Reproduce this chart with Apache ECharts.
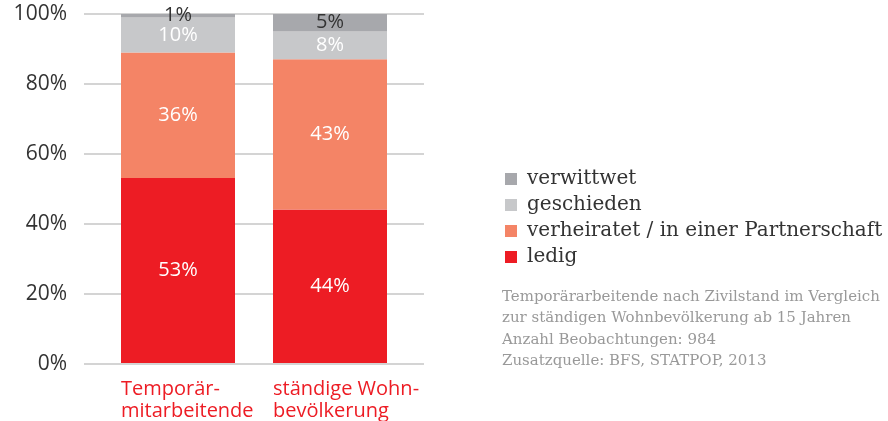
<!DOCTYPE html>
<html>
<head>
<meta charset="utf-8">
<script src="https://cdn.jsdelivr.net/npm/echarts@6/dist/echarts.min.js"></script>
<style>
  html, body { margin: 0; padding: 0; background: #fff; }
  #chart { width: 888px; height: 421px; }
</style>
</head>
<body>
<div id="chart"></div>
<script>
const categories = ['Temporär-\nmitarbeitende', 'ständige Wohn-\nbevölkerung'];
const seriesNames = ['ledig', 'verheiratet / in einer Partnerschaft', 'geschieden', 'verwittwet'];
const ledig = [53, 44];
const verheiratet = [36, 43];
const geschieden = [10, 8];
const verwittwet = [1, 5];
const yTicks = [0, 20, 40, 60, 80, 100];
const noteLines = [
    'Temporärarbeitende nach Zivilstand im Vergleich',
    'zur ständigen Wohnbevölkerung ab 15 Jahren',
    'Anzahl Beobachtungen: 984',
    'Zusatzquelle: BFS, STATPOP, 2013'
];

const colors = ['#ED1C24', '#F48466', '#C7C8CA', '#A7A8AC'];
const sans = '"Open Sans", sans-serif';
const serif = '"DejaVu Serif", serif';

let myChart = echarts.init(document.getElementById('chart'));

const mkSeries = (name, data, i, labelColor) => ({
    name: name,
    type: 'bar',
    stack: 'total',
    xAxisIndex: 1,
    yAxisIndex: 1,
    barWidth: 114,
    data: data,
    itemStyle: { color: colors[i] },
    label: {
        show: true,
        position: 'inside',
        formatter: '{c}%',
        color: labelColor || '#fff',
        fontFamily: sans,
        fontSize: 20
    }
});

let option = {
    animation: false,
    grid: [
        { left: 84, right: 464, top: 14, bottom: 57 },  // gridlines + y labels
        { left: 102, right: 482, top: 14, bottom: 57 }  // bars
    ],
    xAxis: [
        { type: 'category', gridIndex: 0, data: categories, show: false },
        {
            type: 'category',
            gridIndex: 1,
            data: categories,
            axisLine: { show: false },
            axisTick: { show: false },
            axisLabel: {
                margin: 15,
                align: 'center',
                formatter: v => v.split('\n').map(s => '{a|' + s + '}').join('\n'),
                rich: {
                    a: { width: 114, align: 'left', color: '#ED1C24', fontFamily: sans, fontSize: 20, lineHeight: 22 }
                }
            }
        }
    ],
    yAxis: [
        {
            type: 'value',
            gridIndex: 0,
            min: yTicks[0],
            max: yTicks[yTicks.length - 1],
            interval: 20,
            axisLine: { show: false },
            axisTick: { show: false },
            axisLabel: {
                formatter: '{value}%',
                color: '#333',
                fontFamily: sans,
                fontSize: 21,
                margin: 17
            },
            splitLine: { lineStyle: { color: '#D4D4D4', width: 2 } }
        },
        { type: 'value', gridIndex: 1, min: 0, max: 100, show: false }
    ],
    legend: {
        orient: 'vertical',
        left: 500,
        top: 164,
        icon: 'rect',
        itemWidth: 12,
        itemHeight: 12,
        itemGap: 6,
        data: seriesNames.slice().reverse(),
        textStyle: { fontFamily: serif, fontSize: 20, color: '#333', padding: [0, 0, 0, 5] }
    },
    graphic: [{
        type: 'text',
        left: 502,
        top: 286,
        style: {
            text: noteLines.join('\n'),
            fill: '#999',
            font: '15px ' + serif,
            lineHeight: 21.5
        }
    }],
    series: [
        mkSeries(seriesNames[0], ledig, 0),
        mkSeries(seriesNames[1], verheiratet, 1),
        mkSeries(seriesNames[2], geschieden, 2),
        mkSeries(seriesNames[3], verwittwet, 3, '#333')
    ]
};
option && myChart.setOption(option);
</script>
</body>
</html>
